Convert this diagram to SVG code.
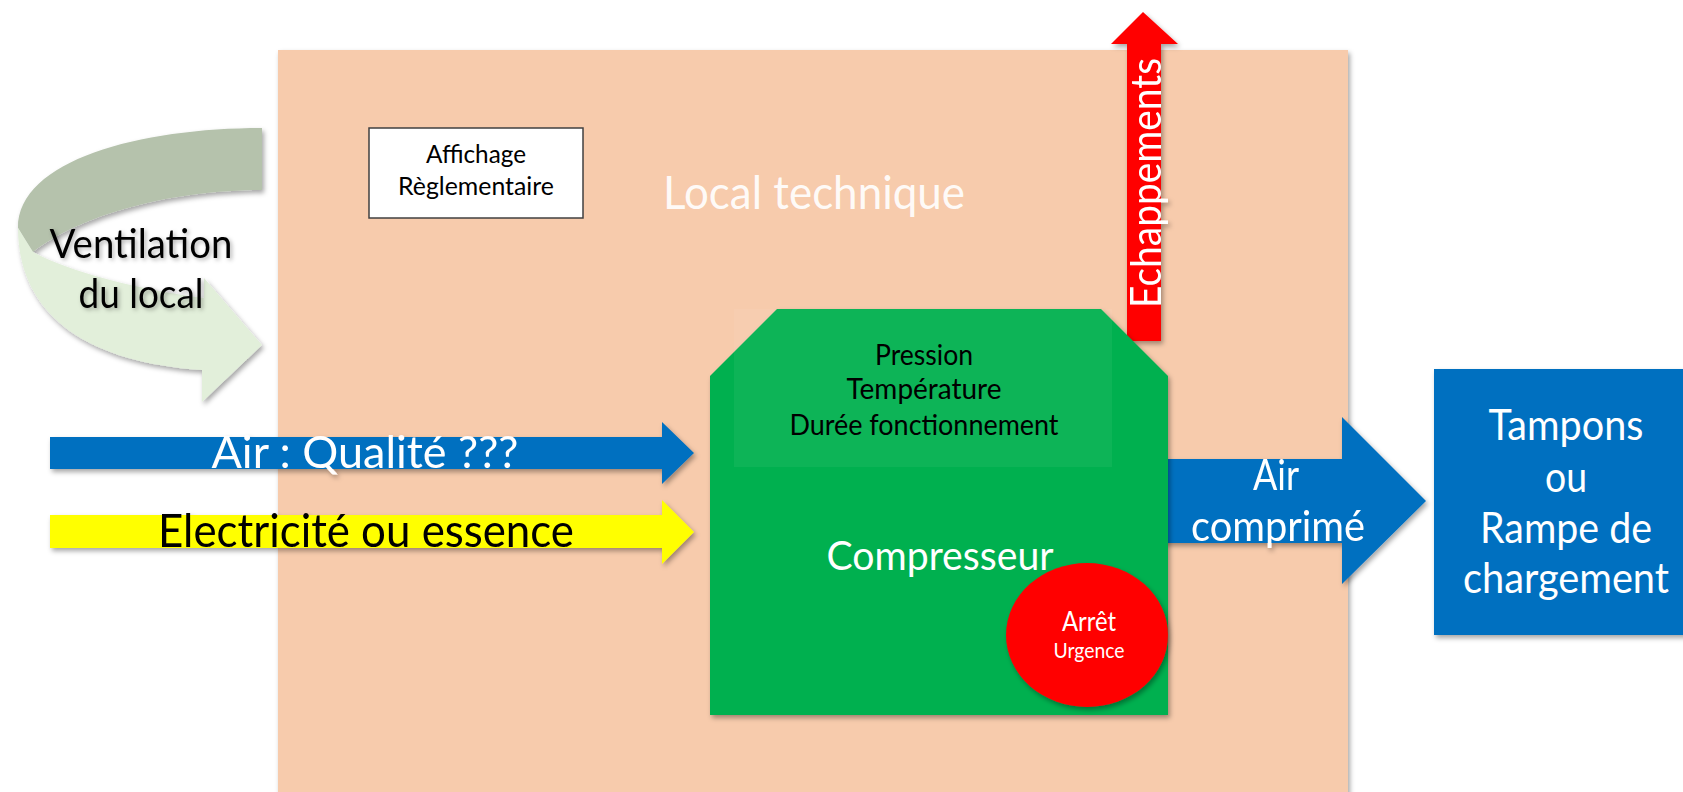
<svg xmlns="http://www.w3.org/2000/svg" width="1683" height="792" viewBox="0 0 1683 792">
  <defs>
    <filter id="shadow" x="-10%" y="-10%" width="130%" height="130%">
      <feDropShadow dx="2" dy="3" stdDeviation="2.5" flood-color="#000" flood-opacity="0.35"/>
    </filter>
    <filter id="textShadow" x="-10%" y="-20%" width="130%" height="150%">
      <feDropShadow dx="2" dy="2" stdDeviation="2" flood-color="#000" flood-opacity="0.3"/>
    </filter>
  </defs>
  <style>
    text { font-family: Lato, "Liberation Sans", sans-serif; text-anchor: middle; }
    .white { fill: #ffffff; }
    .black { fill: #000000; }
  </style>

  <!-- Technical room -->
  <g id="local-technique">
    <rect x="278" y="50" width="1070" height="760" fill="#f7cbac" filter="url(#shadow)"/>
    <text x="814" y="209" font-size="46" fill="#ffffff" fill-opacity="0.92" textLength="302" lengthAdjust="spacingAndGlyphs">Local technique</text>
  </g>

  <!-- Regulatory notice -->
  <g id="affichage">
    <rect x="369" y="128" width="214" height="90" fill="#ffffff" stroke="#404040" stroke-width="1.5"/>
    <text x="476" y="163" font-size="25" class="black" textLength="100" lengthAdjust="spacingAndGlyphs">Affichage</text>
    <text x="476" y="195" font-size="25" class="black" textLength="156" lengthAdjust="spacingAndGlyphs">Règlementaire</text>
  </g>

  <!-- Room ventilation (curved arrow) -->
  <g id="ventilation" filter="url(#shadow)">
    <path d="M262,128 C140,128 18,160 18,228 L33,252 C80,215 170,190 262,190 Z" fill="#b5c2ac"/>
    <path d="M18,228 C18,310 80,362 202,370 L202,402 L262,345 L204,278 L204,298 C140,290 70,272 33,252 Z" fill="#e2efda"/>
  </g>
  <g id="ventilation-label" filter="url(#textShadow)">
    <text x="141" y="258" font-size="40" class="black" textLength="183" lengthAdjust="spacingAndGlyphs">Ventilation</text>
    <text x="141" y="308" font-size="40" class="black" textLength="125" lengthAdjust="spacingAndGlyphs">du local</text>
  </g>

  <!-- Flows -->
  <g id="connectors">
    <g id="air-entree" filter="url(#shadow)">
      <polygon points="50,437 662,437 662,422 694,453 662,484 662,469 50,469" fill="#0070c0"/>
      <text x="365" y="468" font-size="44" class="white" textLength="307" lengthAdjust="spacingAndGlyphs">Air : Qualité ???</text>
    </g>
    <g id="energie" filter="url(#shadow)">
      <polygon points="50,515 662,515 662,500 694,532 662,564 662,548 50,548" fill="#ffff00"/>
      <text x="366" y="547" font-size="46" class="black" textLength="416" lengthAdjust="spacingAndGlyphs">Electricité ou essence</text>
    </g>
    <g id="air-comprime" filter="url(#shadow)">
      <polygon points="1160,459 1342,459 1342,417 1426,501 1342,584 1342,543 1160,543" fill="#0070c0"/>
      <text x="1276" y="490" font-size="42" class="white" textLength="46" lengthAdjust="spacingAndGlyphs">Air</text>
      <text x="1278" y="541" font-size="42" class="white" textLength="174" lengthAdjust="spacingAndGlyphs">comprimé</text>
    </g>
    <g id="echappements" filter="url(#shadow)">
      <polygon points="1127,341 1127,44 1111,44 1143,12 1178,44 1161,44 1161,341" fill="#ff0000"/>
      <text transform="translate(1161,183) rotate(-90)" x="0" y="0" font-size="42" class="white" textLength="250" lengthAdjust="spacingAndGlyphs">Echappements</text>
    </g>
  </g>

  <!-- Compressor -->
  <g id="compresseur">
    <polygon points="777,309 1101,309 1168,376 1168,715 710,715 710,376" fill="#00b050" filter="url(#shadow)"/>
    <rect x="734" y="309" width="378" height="158" fill="#ffffff" fill-opacity="0.05"/>
    <text x="924" y="365" font-size="29" class="black" textLength="98" lengthAdjust="spacingAndGlyphs">Pression</text>
    <text x="924" y="399" font-size="29" class="black" textLength="155" lengthAdjust="spacingAndGlyphs">Température</text>
    <text x="924" y="435" font-size="29" class="black" textLength="269" lengthAdjust="spacingAndGlyphs">Durée fonctionnement</text>
    <text x="940" y="570" font-size="40" class="white" textLength="227" lengthAdjust="spacingAndGlyphs">Compresseur</text>
  </g>

  <!-- Emergency stop -->
  <g id="arret-urgence">
    <ellipse cx="1087" cy="635" rx="81" ry="72" fill="#ff0000" filter="url(#shadow)"/>
    <text x="1089" y="631" font-size="26" class="white" textLength="54" lengthAdjust="spacingAndGlyphs">Arrêt</text>
    <text x="1089" y="658" font-size="21" class="white" textLength="71" lengthAdjust="spacingAndGlyphs">Urgence</text>
  </g>

  <!-- Buffer tanks / loading ramp -->
  <g id="tampons">
    <rect x="1434" y="369" width="270" height="266" fill="#0070c0" filter="url(#shadow)"/>
    <text x="1566" y="440" font-size="42" class="white" textLength="155" lengthAdjust="spacingAndGlyphs">Tampons</text>
    <text x="1566" y="492" font-size="42" class="white" textLength="42" lengthAdjust="spacingAndGlyphs">ou</text>
    <text x="1566" y="543" font-size="42" class="white" textLength="172" lengthAdjust="spacingAndGlyphs">Rampe de</text>
    <text x="1566" y="593" font-size="42" class="white" textLength="206" lengthAdjust="spacingAndGlyphs">chargement</text>
  </g>
</svg>
